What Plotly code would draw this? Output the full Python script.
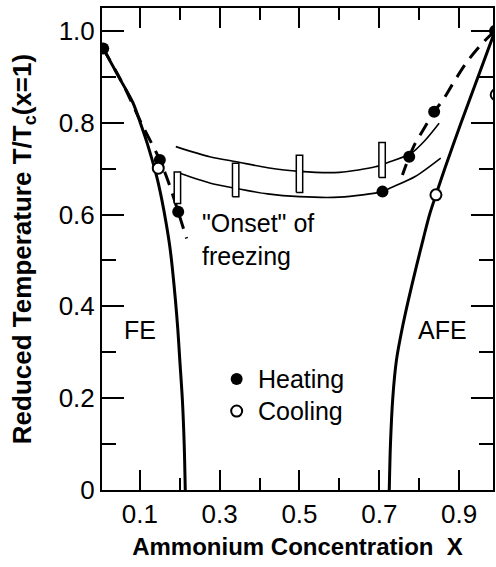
import plotly.graph_objects as go

# ---------------- data ----------------
# FE phase boundary (thick solid, left)
fe_x = [0.008, 0.047, 0.083, 0.101, 0.117, 0.142, 0.155, 0.166, 0.175, 0.181, 0.189, 0.195, 0.200, 0.2065, 0.211, 0.2137]
fe_y = [0.962, 0.900, 0.843, 0.800, 0.759, 0.683, 0.632, 0.580, 0.530, 0.486, 0.414, 0.350, 0.283, 0.196, 0.100, 0.000]

# AFE phase boundary (thick solid, right)
afe_x = [0.990, 0.905, 0.864, 0.842, 0.826, 0.811, 0.793, 0.773, 0.757, 0.743, 0.734, 0.728, 0.725]
afe_y = [1.000, 0.800, 0.700, 0.643, 0.600, 0.550, 0.487, 0.414, 0.350, 0.283, 0.203, 0.100, 0.000]

# dashed curves (heating)
dash_l_x = [0.008, 0.060, 0.103, 0.150, 0.175, 0.196, 0.217]
dash_l_y = [0.962, 0.880, 0.800, 0.719, 0.662, 0.606, 0.548]
dash_r_x = [0.990, 0.958, 0.920, 0.885, 0.860, 0.8375, 0.8125, 0.790, 0.775, 0.758]
dash_r_y = [1.000, 0.973, 0.933, 0.886, 0.850, 0.824, 0.788, 0.755, 0.726, 0.686]

# thin curves bounding the freezing region
up_x = [0.190, 0.275, 0.342, 0.420, 0.500, 0.600, 0.690, 0.720, 0.779, 0.815, 0.850]
up_y = [0.748, 0.726, 0.715, 0.702, 0.694, 0.692, 0.704, 0.713, 0.733, 0.762, 0.799]
lo_x = [0.200, 0.275, 0.342, 0.420, 0.500, 0.600, 0.708, 0.725, 0.790, 0.854]
lo_y = [0.690, 0.669, 0.657, 0.645, 0.639, 0.638, 0.650, 0.657, 0.683, 0.723]

# "onset of freezing" ranges (open bars)
bar_x = [0.194, 0.340, 0.500, 0.707]
bar_lo = [0.624, 0.639, 0.648, 0.681]
bar_hi = [0.693, 0.712, 0.729, 0.757]

# measured points
heat_x = [0.008, 0.150, 0.196, 0.708, 0.775, 0.8375, 0.990]
heat_y = [0.962, 0.719, 0.606, 0.650, 0.726, 0.824, 1.000]
cool_x = [0.146, 0.842, 0.993]
cool_y = [0.701, 0.643, 0.861]

series_names = ["Heating", "Cooling"]

# ticks
x_tick_vals = [0.1, 0.3, 0.5, 0.7, 0.9]
x_tick_text = ["0.1", "0.3", "0.5", "0.7", "0.9"]
y_tick_vals = [0, 0.2, 0.4, 0.6, 0.8, 1.0]
y_tick_text = ["0", "0.2", "0.4", "0.6", "0.8", "1.0"]

# ---------------- styles ----------------
FONT = "Liberation Sans, Arial, sans-serif"
BAR_HALF = 0.008
LEG_X = 0.3425            # key position (data units)
LEG_Y = [0.242, 0.172]
LEG_TEXT_X = 0.392

fig = go.Figure()

def line(x, y, width, dash="solid"):
    fig.add_trace(go.Scatter(x=x, y=y, mode="lines", showlegend=False, hoverinfo="skip",
                             line=dict(color="black", width=width, dash=dash, shape="spline", smoothing=0.8)))

line(fe_x, fe_y, 3)
line(afe_x, afe_y, 3)
line(dash_l_x, dash_l_y, 3, "14px,9px")
line(dash_r_x, dash_r_y, 3, "14px,9px")
line(up_x, up_y, 1.6)
line(lo_x, lo_y, 1.6)

# open rectangles built from the bar arrays
rx, ry = [], []
for xc, lo, hi in zip(bar_x, bar_lo, bar_hi):
    rx += [xc - BAR_HALF, xc + BAR_HALF, xc + BAR_HALF, xc - BAR_HALF, xc - BAR_HALF, None]
    ry += [lo, lo, hi, hi, lo, None]
fig.add_trace(go.Scatter(x=rx, y=ry, mode="lines", fill="toself", fillcolor="white",
                         line=dict(color="black", width=1.5), showlegend=False, hoverinfo="skip"))

heat_marker = dict(symbol="circle", size=12, color="black", line=dict(width=0))
cool_marker = dict(symbol="circle", size=11, color="white", line=dict(width=2, color="black"))

fig.add_trace(go.Scatter(x=heat_x, y=heat_y, mode="markers", name=series_names[0],
                         marker=heat_marker, showlegend=False))
fig.add_trace(go.Scatter(x=cool_x, y=cool_y, mode="markers", name=series_names[1],
                         marker=cool_marker, showlegend=False))

# key (drawn inside the plot like the original)
for name, marker, ly in zip(series_names, [heat_marker, cool_marker], LEG_Y):
    fig.add_trace(go.Scatter(x=[LEG_X], y=[ly], mode="markers", marker=marker,
                             showlegend=False, hoverinfo="skip"))
    fig.add_annotation(x=LEG_TEXT_X, y=ly, xref="x", yref="y", text=name, showarrow=False,
                       xanchor="left", yanchor="middle", font=dict(family=FONT, size=25, color="black"))

fig.add_annotation(x=0.25, y=0.546, xref="x", yref="y", text="\"Onset\" of<br>freezing",
                   showarrow=False, xanchor="left", yanchor="middle", align="left",
                   font=dict(family=FONT, size=25, color="black"))
fig.add_annotation(x=0.055, y=0.349, xref="x", yref="y", text="FE", showarrow=False,
                   xanchor="left", yanchor="middle", font=dict(family=FONT, size=25, color="black"))
fig.add_annotation(x=0.7925, y=0.349, xref="x", yref="y", text="AFE", showarrow=False,
                   xanchor="left", yanchor="middle", font=dict(family=FONT, size=25, color="black"))

axis_common = dict(showgrid=False, zeroline=False, showline=True, linecolor="black", linewidth=2,
                   mirror="allticks", ticks="inside", tickwidth=2, tickcolor="black",
                   tickfont=dict(family=FONT, size=26, color="black"))

fig.update_xaxes(range=[0.005, 0.985], tickmode="array", tickvals=x_tick_vals, ticktext=x_tick_text,
                 ticklen=20,
                 minor=dict(dtick=0.1, tick0=0, ticks="inside", ticklen=12, tickwidth=2, tickcolor="black"),
                 title=dict(text="<b>Ammonium Concentration\u00a0\u00a0X</b>", standoff=10,
                            font=dict(family=FONT, size=24, color="black")),
                 **axis_common)
fig.update_yaxes(range=[0, 1.05], tickmode="array", tickvals=y_tick_vals, ticktext=y_tick_text,
                 ticklen=22,
                 minor=dict(dtick=0.1, tick0=0, ticks="inside", ticklen=14, tickwidth=2, tickcolor="black"),
                 title=dict(text="<b>Reduced Temperature T/T<sub>c</sub>(x=1)</b>", standoff=20,
                            font=dict(family=FONT, size=26, color="black")),
                 **axis_common)

fig.update_layout(width=496, height=567, margin=dict(l=102, r=3, t=8, b=77, autoexpand=False),
                  paper_bgcolor="white", plot_bgcolor="white", showlegend=False)

fig.write_html("out.html")
